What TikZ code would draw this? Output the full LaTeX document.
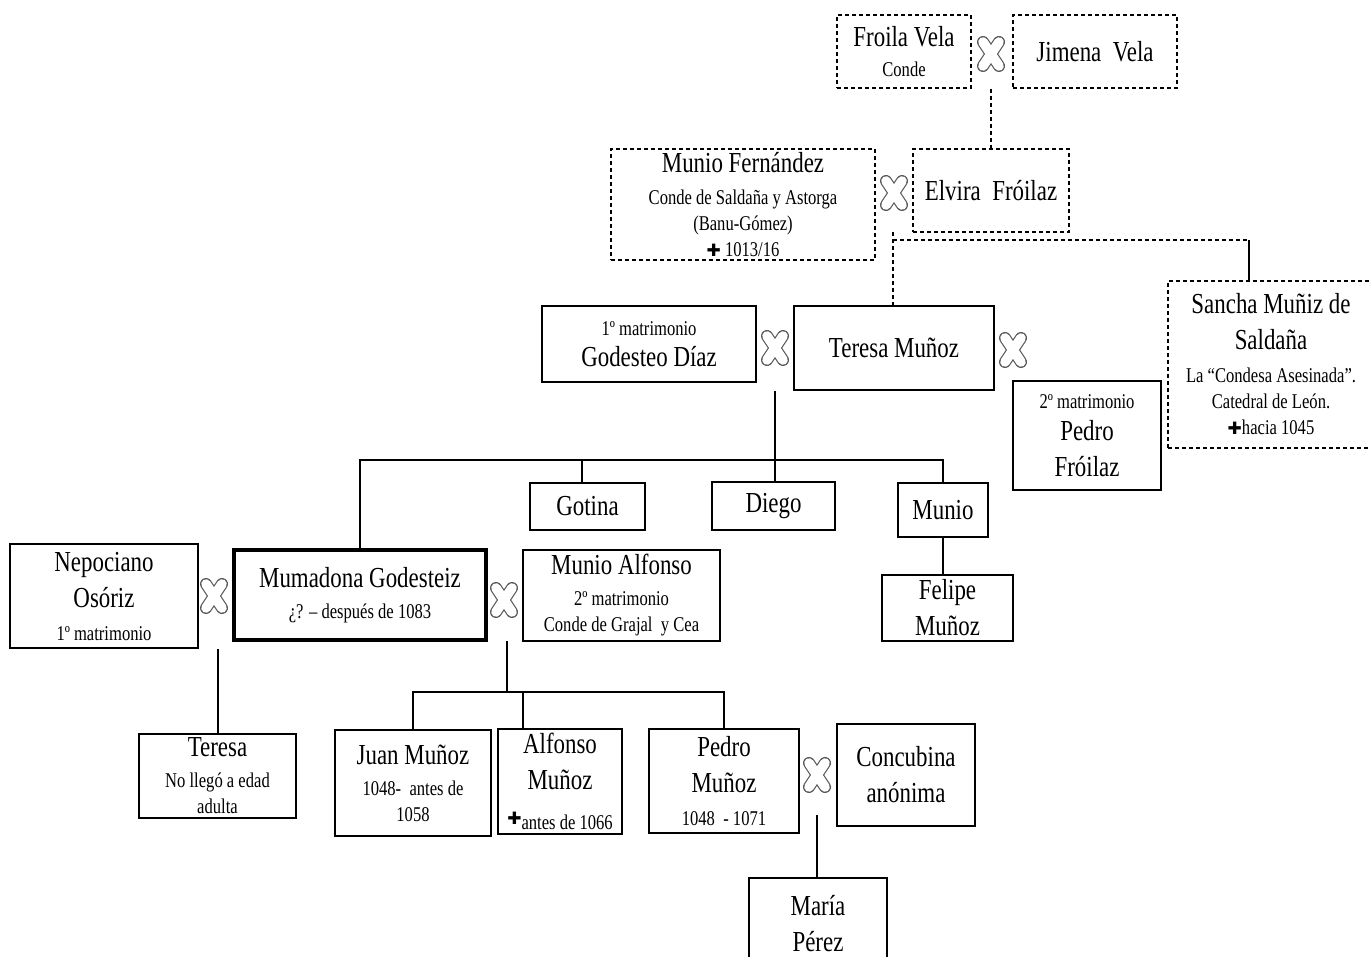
\documentclass[tikz,border=0pt]{standalone}
\usepackage{fontspec}
\setmainfont[FakeStretch=0.79]{Liberation Serif}
\newfontfamily\symfont{DejaVu Sans}
\newcommand\nm{\fontsize{29}{36}\selectfont}
\newcommand\smtxt{\fontsize{21}{26}\selectfont}
\newcommand\dcross{{\symfont\fontsize{17}{17}\selectfont ✚}}
\begin{document}
\lineskiplimit=-100pt\relax
\begin{tikzpicture}[x=1pt,y=-1pt,
  person/.style={draw, line width=1.3pt, align=center, inner sep=0pt,
    font=\smtxt},
  dperson/.style={person, dash pattern=on 4pt off 3pt},
  link/.style={line width=1.2pt},
  dlink/.style={link, dash pattern=on 4pt off 3pt},
  marr/.pic={
    \draw[gray!70!black, line width=12pt, line cap=round] (-8,-12) -- (8,12) (-8,12) -- (8,-12);
    \draw[white, line width=9.6pt, line cap=round] (-8,-12) -- (8,12);
    \draw[white, line width=9.6pt, line cap=round] (-8,12) -- (8,-12);}]
\useasboundingbox[fill=white] (0,0) rectangle (1371,957);

% generation 1
\node[dperson, minimum width=134pt, minimum height=73pt] (froila) at (904,51.5)
  {\nm Froila Vela\\[4pt] Conde};
\node[dperson, minimum width=164pt, minimum height=73pt] (jimena) at (1095,51.5)
  {\nm Jimena\ \ Vela};
\coordinate (m1) at (991,54);
\pic at (m1) {marr};

% generation 2
\node[dperson, minimum width=264pt, minimum height=111pt] (munioF) at (743,204.5)
  {\nm Munio Fernández\\[6pt] Conde de Saldaña y Astorga\\ (Banu-Gómez)\\ \dcross\ 1013/16};
\node[dperson, minimum width=156pt, minimum height=83pt] (elvira) at (991,190.5)
  {\nm Elvira\ \ Fróilaz};
\coordinate (m2) at (894,193);
\pic at (m2) {marr};
\draw[dlink] (m1 |- froila.south) -- (elvira.north -| m1);

% generation 3
\node[person, minimum width=214pt, minimum height=76pt] (godesteo) at (649,344)
  {1º matrimonio\\[5pt]\nm Godesteo Díaz};
\node[person, minimum width=200pt, minimum height=84pt] (teresaM) at (894,348)
  {\nm Teresa Muñoz};
\node[person, minimum width=148pt, minimum height=109pt] (pedroF) at (1087,435.5)
  {2º matrimonio\\[6pt]\nm Pedro\\[10pt]\nm Fróilaz};
\node[dperson, minimum width=206pt, minimum height=167pt] (sancha) at (1271,364.5)
  {\nm Sancha Muñiz de\\[10pt]\nm Saldaña\\[7pt] La “Condesa Asesinada”.\\ Catedral\ de León.\\ \dcross hacia 1045};
\coordinate (m3) at (775,348);
\pic at (m3) {marr};
\coordinate (m4) at (1013,350);
\pic at (m4) {marr};

\coordinate (j0) at (893,232);
\coordinate (j1) at (893,240);
\coordinate (j2) at (1249,240);
\draw[dlink] (j0) -- (teresaM.north -| j0);
\draw[dlink] (j1) -- (j2);
\draw[link] (j2) -- (sancha.north -| j2);

% generation 4
\node[person, minimum width=115pt, minimum height=47pt] (gotina) at (587.5,506.5) {\nm Gotina};
\node[person, minimum width=123pt, minimum height=48pt] (diego) at (773.5,506) {\nm Diego};
\node[person, minimum width=90pt, minimum height=54pt] (munio) at (943,510) {\nm Munio};
\node[person, minimum width=131pt, minimum height=66pt] (felipe) at (947.5,608)
  {\nm Felipe\\[10pt]\nm Muñoz};
\node[person, minimum width=188pt, minimum height=104pt] (nepociano) at (104,596)
  {\nm Nepociano\\[10pt]\nm Osóriz\\[7pt] 1º matrimonio};
\node[person, line width=4.5pt, minimum width=252pt, minimum height=90pt] (mumadona) at (360,595)
  {\nm Mumadona Godesteiz\\[5pt] ¿? – después de 1083};
\node[person, minimum width=197pt, minimum height=91pt] (munioA) at (621.5,595.5)
  {\nm Munio Alfonso\\[5pt] 2º matrimonio\\ Conde de Grajal\ \ y Cea};
\coordinate (m5) at (214,596);
\pic at (m5) {marr};
\coordinate (m6) at (504,600);
\pic at (m6) {marr};

\coordinate (k1) at (775,391);
\coordinate (h1) at (360,460);
\coordinate (k7) at (582,460);
\draw[link] (k1) -- (diego.north -| k1);
\draw[link] (mumadona.north) -- (mumadona.north |- h1) -- (munio.north |- h1) -- (munio.north);
\draw[link] (k7) -- (k7 |- gotina.north);
\draw[link] (munio.south) -- (felipe.north -| munio.south);

% generation 5
\node[person, minimum width=157pt, minimum height=84pt] (teresa) at (217.5,776)
  {\nm Teresa\\[5pt] No llegó a edad\\ adulta};
\node[person, minimum width=156pt, minimum height=106pt] (juan) at (413,783)
  {\nm Juan Muñoz\\[5pt] 1048-\ \ antes de\\ 1058};
\node[person, minimum width=124pt, minimum height=105pt] (alfonso) at (560,781.5)
  {\nm Alfonso\\[10pt]\nm Muñoz\\[14pt] \raisebox{5pt}{\dcross}antes de 1066};
\node[person, minimum width=150pt, minimum height=104pt] (pedroM) at (724,781)
  {\nm Pedro\\[10pt]\nm Muñoz\\[7pt] 1048\ \ - 1071};
\node[person, minimum width=138pt, minimum height=102pt] (concubina) at (906,775)
  {\nm Concubina\\[10pt]\nm anónima};
\coordinate (m7) at (817,775);
\pic at (m7) {marr};

\coordinate (k2) at (218,649);
\draw[link] (k2) -- (teresa.north -| k2);
\coordinate (k3) at (507,641);
\coordinate (k4) at (507,692);
\coordinate (k5) at (523,692);
\draw[link] (k3) -- (k4);
\draw[link] (juan.north) -- (juan.north |- k4) -- (pedroM.north |- k4) -- (pedroM.north);
\draw[link] (k5) -- (k5 |- alfonso.north);

% generation 6
\node[person, minimum width=138pt, minimum height=92pt] (maria) at (818,924)
  {\nm María\\[10pt]\nm Pérez};
\coordinate (k6) at (817,815);
\draw[link] (k6) -- (maria.north -| k6);
\end{tikzpicture}
\end{document}
